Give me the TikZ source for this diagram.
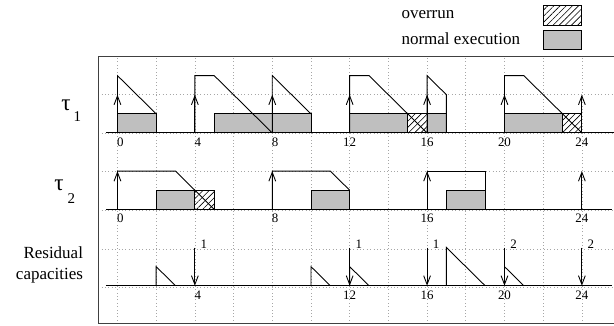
\documentclass[tikz,border=0pt]{standalone}
\usepackage{fontspec}
\setmainfont{Liberation Serif}
\usetikzlibrary{arrows.meta,patterns.meta}
\begin{document}
\begin{tikzpicture}[x=0.5cm,y=0.4935cm,
  every node/.style={inner sep=0pt,outer sep=0pt},
  axisline/.style={line width=0.8pt},
  curve/.style={line width=0.65pt,line join=miter},
  execbox/.style={draw,line width=0.65pt,fill=black!25},
  overbox/.style={draw,line width=0.65pt,pattern={Lines[angle=45,distance=3.2pt,line width=0.45pt]}},
  relarrow/.style={line width=0.65pt,-{Straight Barb[length=6.5pt,width=5pt]}},
  ticklab/.style={font=\fontsize{9.5}{9.5}\selectfont},
  caplab/.style={font=\fontsize{9.5}{9.5}\selectfont},
  bigtext/.style={font=\fontsize{12.5}{15}\selectfont},
  taulab/.style={font=\fontsize{17}{17}\selectfont},
  sublab/.style={font=\fontsize{11}{11}\selectfont}]
\useasboundingbox (-6.07,-10.1) rectangle (25.66,6.96);
% grid
\draw[black!35,dotted,line width=0.5pt] (-1,-10) grid (25.66,4);
% frame
\draw[line width=0.8pt,black!75] (25.66,4) -- (-1,4) -- (-1,-10) -- (25.66,-10);
% legend
\node[bigtext,anchor=west] (lgover) at (14.68,6.18) {overrun};
\node[bigtext,anchor=west] (lgnorm) at (14.68,4.92) {normal execution};
\draw[overbox] (22,5.62) rectangle (24,6.68);
\draw[execbox] (22,4.35) rectangle (24,5.35);
% row labels
\node[taulab] (tau1) at (-2.66,1.47) {τ};
\node[sublab] (tau1s) at (-2.07,0.84) {1};
\node[taulab] (tau2) at (-3.02,-2.72) {τ};
\node[sublab] (tau2s) at (-2.38,-3.43) {2};
\node[bigtext,align=right,anchor=east] (resid) at (-1.78,-6.91) {Residual\\capacities};
% ---------- tau 1 ----------
\draw[execbox] (0,0) rectangle (2,1);
\draw[execbox] (5,0) rectangle (10,1);
\draw[execbox] (12,0) rectangle (15,1);
\draw[overbox] (15,0) rectangle (16,1);
\draw[execbox] (16,0) rectangle (17,1);
\draw[execbox] (20,0) rectangle (23,1);
\draw[overbox] (23,0) rectangle (24,1);
\draw[curve] (0,0) -- (0,3) -- (2,1);
\draw[curve] (4,0) -- (4,3) -- (5,3) -- (8,0);
\draw[curve] (8,0) -- (8,3) -- (10,1);
\draw[curve] (12,0) -- (12,3) -- (13,3) -- (16,0);
\draw[curve] (16,0) -- (16,3) -- (17,2) -- (17,0);
\draw[curve] (20,0) -- (20,3) -- (21,3) -- (24,0);
\foreach \t in {0,4,...,24} \draw[relarrow] (\t,0) -- (\t,2);
\draw[axisline] (-0.6,0) -- (25.66,0);
\foreach \t in {0,4,8} \node[ticklab] (a\t) at (\t+0.15,-0.47) {\t};
\foreach \t in {12,16,20,24} \node[ticklab] (a\t) at (\t,-0.47) {\t};
% ---------- tau 2 ----------
\draw[execbox] (2,-4) rectangle (4,-3);
\draw[overbox] (4,-4) rectangle (5,-3);
\draw[execbox] (10,-4) rectangle (12,-3);
\draw[execbox] (17,-4) rectangle (19,-3);
\draw[curve] (0,-4) -- (0,-2) -- (3,-2) -- (5,-4);
\draw[curve] (8,-4) -- (8,-2) -- (11,-2) -- (12,-3);
\draw[curve] (16,-4) -- (16,-2) -- (19,-2) -- (19,-4);
\foreach \t in {0,8,16,24} \draw[relarrow] (\t,-4) -- (\t,-2);
\draw[axisline] (-0.6,-4) -- (25.55,-4);
\foreach \t in {0,8} \node[ticklab] (b\t) at (\t+0.15,-4.46) {\t};
\foreach \t in {16,24} \node[ticklab] (b\t) at (\t,-4.46) {\t};
% ---------- residual capacities ----------
\draw[curve] (2,-8) -- (2,-7) -- (3,-8);
\draw[curve] (10,-8) -- (10,-7) -- (11,-8);
\draw[curve] (12,-8) -- (12,-7) -- (13,-8);
\draw[curve] (17,-8) -- (17,-6) -- (19,-8);
\draw[curve] (20,-8) -- (20,-7) -- (21,-8);
\foreach \t in {4,12,16,20,24} \draw[relarrow] (\t,-6) -- (\t,-8);
\draw[axisline] (-0.6,-8) -- (25.55,-8);
\node[ticklab] (c4) at (4.15,-8.48) {4};
\foreach \t in {12,16,20,24} \node[ticklab] (c\t) at (\t,-8.48) {\t};
\foreach \t/\v in {4/1,12/1,16/1,20/2,24/2} \node[caplab] (r\t) at (\t+0.47,-5.85) {\v};
\end{tikzpicture}
\end{document}
